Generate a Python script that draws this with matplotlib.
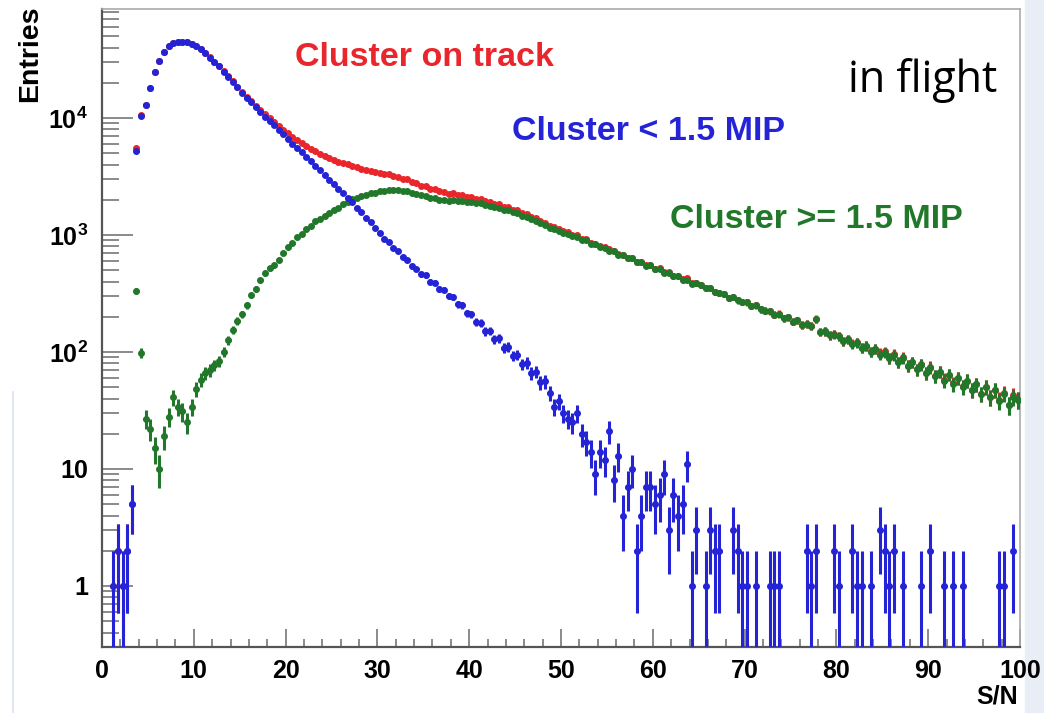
import numpy as np
import matplotlib
matplotlib.use("Agg")
import matplotlib.pyplot as plt
from matplotlib.ticker import FixedLocator, FuncFormatter, MultipleLocator

plt.rcParams['font.family'] = ['Liberation Sans', 'DejaVu Sans']
plt.rcParams['mathtext.fontset'] = 'custom'
plt.rcParams['mathtext.rm'] = 'Liberation Sans:bold'
plt.rcParams['mathtext.bf'] = 'Liberation Sans:bold'
plt.rcParams['mathtext.it'] = 'Liberation Sans:bold'

# S/N histogram, 200 bins of width 0.5 from 0 to 100
bin_width = 0.5
sn_centers = np.arange(0, 100, bin_width) + bin_width / 2

# Cluster < 1.5 MIP (blue)
small_clusters = [
    0, 0, 1, 2, 1, 2, 5, 5220, 10500, 12900,
    18100, 24600, 30500, 36600, 41000, 44000, 44600, 44900, 44400, 42900,
    41000, 38900, 35900, 32900, 30100, 27600, 24900, 22600, 20500, 18400,
    16500, 14900, 13600, 12400, 11250, 10300, 9500, 8650, 7950, 7250,
    6650, 6050, 5580, 5080, 4680, 4250, 3920, 3560, 3280, 2980,
    2750, 2490, 2300, 2090, 1900, 1700, 1560, 1390, 1280, 1140,
    1050, 930, 875, 770, 735, 645, 615, 540, 515, 460,
    452, 398, 392, 345, 341, 300, 296, 255, 250, 214,
    210, 180, 178, 150, 152, 128, 131, 109, 111, 93,
    95, 79, 81, 66, 68, 55, 56, 45, 34, 38,
    30, 27, 25, 30, 20, 17, 14, 9, 14, 12,
    21, 8, 13, 4, 7, 10, 2, 4, 7, 7,
    5, 6, 9, 3, 6, 4, 5, 11, 1, 3,
    0, 1, 3, 2, 2, 0, 0, 3, 2, 1,
    1, 0, 1, 0, 0, 1, 1, 1, 0, 0,
    0, 0, 0, 2, 1, 2, 0, 0, 0, 2,
    1, 0, 0, 2, 1, 1, 0, 1, 0, 3,
    2, 1, 2, 0, 1, 0, 0, 0, 1, 0,
    2, 0, 0, 1, 0, 1, 0, 1, 0, 0,
    0, 0, 0, 0, 0, 1, 1, 0, 2, 0,
]

# Cluster >= 1.5 MIP (green)
large_clusters = [
    0, 0, 0, 0, 0, 0, 0, 332, 99, 27,
    22, 15, 10, 19, 28, 41, 34, 31, 25, 34,
    48, 58, 66, 70, 77, 83, 100, 127, 154, 185,
    210, 250, 305, 345, 410, 470, 520, 550, 615, 700,
    785, 850, 960, 1030, 1130, 1190, 1310, 1360, 1460, 1530,
    1640, 1710, 1840, 1920, 2030, 2070, 2160, 2190, 2280, 2290,
    2360, 2380, 2440, 2420, 2420, 2370, 2360, 2290, 2250, 2180,
    2150, 2090, 2070, 2010, 2000, 1960, 1975, 1940, 1950, 1920,
    1920, 1870, 1860, 1800, 1780, 1720, 1700, 1640, 1630, 1560,
    1530, 1460, 1430, 1360, 1330, 1260, 1220, 1150, 1130, 1080,
    1050, 1030, 975, 965, 905, 900, 840, 835, 790, 780,
    735, 728, 680, 675, 635, 630, 590, 588, 548, 550,
    510, 512, 475, 478, 442, 446, 412, 415, 385, 388,
    372, 349, 350, 325, 318, 315, 292, 294, 276, 268,
    266, 247, 251, 232, 226, 224, 208, 211, 195, 199,
    182, 186, 170, 173, 166, 190, 148, 150, 139, 141,
    136, 124, 128, 116, 120, 108, 113, 100, 107, 95,
    99, 88, 94, 82, 89, 76, 82, 71, 78, 66,
    73, 62, 68, 57, 64, 53, 60, 50, 57, 47,
    53, 44, 50, 41, 47, 38, 44, 35, 41, 39,
]

# Cluster on track (red)
all_clusters = [
    0, 0, 1, 2, 1, 2, 5, 5550, 10600, 12930,
    18120, 24620, 30510, 36620, 41030, 44040, 44630, 44930, 44430, 42930,
    41050, 38960, 35970, 32970, 30180, 27680, 25000, 22730, 20650, 18590,
    16710, 15150, 13905, 12745, 11660, 10770, 10020, 9200, 8565, 7950,
    7435, 6900, 6540, 6110, 5810, 5440, 5230, 4920, 4740, 4510,
    4390, 4230, 4110, 4030, 3900, 3790, 3700, 3600, 3530, 3450,
    3420, 3300, 3330, 3180, 3160, 3010, 2990, 2820, 2780, 2630,
    2600, 2490, 2460, 2360, 2340, 2260, 2270, 2200, 2200, 2130,
    2130, 2050, 2040, 1950, 1930, 1850, 1830, 1750, 1740, 1650,
    1625, 1540, 1510, 1425, 1400, 1315, 1275, 1195, 1165, 1120,
    1080, 1057, 1000, 995, 925, 917, 854, 844, 804, 792,
    756, 736, 693, 679, 642, 640, 592, 592, 555, 557,
    515, 518, 484, 481, 448, 450, 417, 426, 386, 391,
    372, 350, 353, 327, 320, 315, 292, 297, 278, 269,
    267, 247, 252, 232, 226, 225, 209, 212, 195, 199,
    182, 186, 170, 175, 167, 192, 148, 150, 139, 143,
    137, 124, 128, 118, 121, 109, 113, 101, 107, 98,
    101, 89, 96, 82, 90, 76, 82, 71, 79, 66,
    75, 62, 68, 58, 64, 54, 60, 51, 57, 47,
    53, 44, 50, 41, 47, 39, 45, 35, 43, 39,
]

x_ticks = [0, 10, 20, 30, 40, 50, 60, 70, 80, 90, 100]
y_ticks = [1, 10, 100, 1000, 10000]
y_tick_labels = ['1', '10', r'$\mathbf{10^{2}}$', r'$\mathbf{10^{3}}$', r'$\mathbf{10^{4}}$']

RED = '#e8262b'
BLUE = '#2424d6'
GREEN = '#22782a'


def draw_hist(ax, counts, color, z):
    counts = np.asarray(counts, dtype=float)
    keep = counts > 0
    x = sn_centers[keep]
    y = counts[keep]
    err = np.sqrt(y)
    low = np.minimum(err, y - 0.01)   # keep the lower end positive for the log axis
    ax.errorbar(x, y, yerr=[low, err], xerr=bin_width / 2, fmt='o', ms=4.0,
                color=color, mec=color, elinewidth=2.2, capsize=0, zorder=z)


fig = plt.figure(figsize=(10.44, 7.13), dpi=100)

# light slide background around the picture
fig.patches.append(plt.Rectangle((1025 / 1044, 0), 1, 1, transform=fig.transFigure,
                                 color='#e8edf6', zorder=-5))
fig.lines.append(plt.Line2D([13 / 1044, 13 / 1044], [0, 0.45], transform=fig.transFigure,
                            color='#dbe3f0', lw=1.2, zorder=-5))

ax = fig.add_axes([0.0977, 0.0926, 0.8793, 0.8948])
ax.set_yscale('log')
ax.patch.set_alpha(0)

draw_hist(ax, all_clusters, RED, 3)
draw_hist(ax, large_clusters, GREEN, 4)
draw_hist(ax, small_clusters, BLUE, 5)

ax.set_xlim(0, 100)
ax.set_ylim(0.301, 85500)

ax.xaxis.set_major_locator(FixedLocator(x_ticks))
ax.xaxis.set_minor_locator(MultipleLocator(2))
ax.yaxis.set_major_locator(FixedLocator(y_ticks))
ax.yaxis.set_major_formatter(FuncFormatter(lambda v, p: y_tick_labels[y_ticks.index(round(v))] if round(v) in y_ticks else ''))
minor = [m * 10.0 ** d for d in range(-1, 5) for m in range(2, 10)]
ax.yaxis.set_minor_locator(FixedLocator(minor))
ax.yaxis.set_minor_formatter(FuncFormatter(lambda v, p: ''))

ax.tick_params(axis='both', which='both', direction='in', colors='#777777',
               labelcolor='black', top=False, right=False)
ax.tick_params(axis='x', which='major', length=13, width=1.2, pad=9)
ax.tick_params(axis='x', which='minor', length=6, width=1.2)
ax.tick_params(axis='y', which='major', length=22, width=1.2, pad=10)
ax.tick_params(axis='y', which='minor', length=12, width=1.2)
for lab in ax.get_xticklabels() + ax.get_yticklabels():
    lab.set_fontsize(18)
    lab.set_fontweight('bold')

for side in ['left', 'bottom']:
    ax.spines[side].set_color('#555555')
    ax.spines[side].set_linewidth(1.6)
for side in ['top', 'right']:
    ax.spines[side].set_color('#aaaaaa')
    ax.spines[side].set_linewidth(1.2)

fig.text(30 / 1044, 1 - 5 / 713, 'Entries', rotation=90, ha='center', va='top',
         fontsize=20.5, fontweight='bold')
fig.text(1018 / 1044, 1 - 696 / 713, 'S/N', ha='right', va='center',
         fontsize=18, fontweight='bold')

fig.text(295 / 1044, 1 - 57 / 713, 'Cluster on track', color=RED, ha='left', va='center',
         fontsize=24.5, fontweight='bold')
fig.text(512 / 1044, 1 - 131 / 713, 'Cluster < 1.5 MIP', color=BLUE, ha='left', va='center',
         fontsize=24.5, fontweight='bold')
fig.text(670 / 1044, 1 - 220 / 713, 'Cluster >= 1.5 MIP', color=GREEN, ha='left', va='center',
         fontsize=24.5, fontweight='bold')
fig.text(848 / 1044, 1 - 92 / 713, 'in flight', color='black', ha='left', va='baseline',
         fontsize=31, family=['Open Sans', 'DejaVu Sans'])

fig.savefig('out.png', dpi=100)
